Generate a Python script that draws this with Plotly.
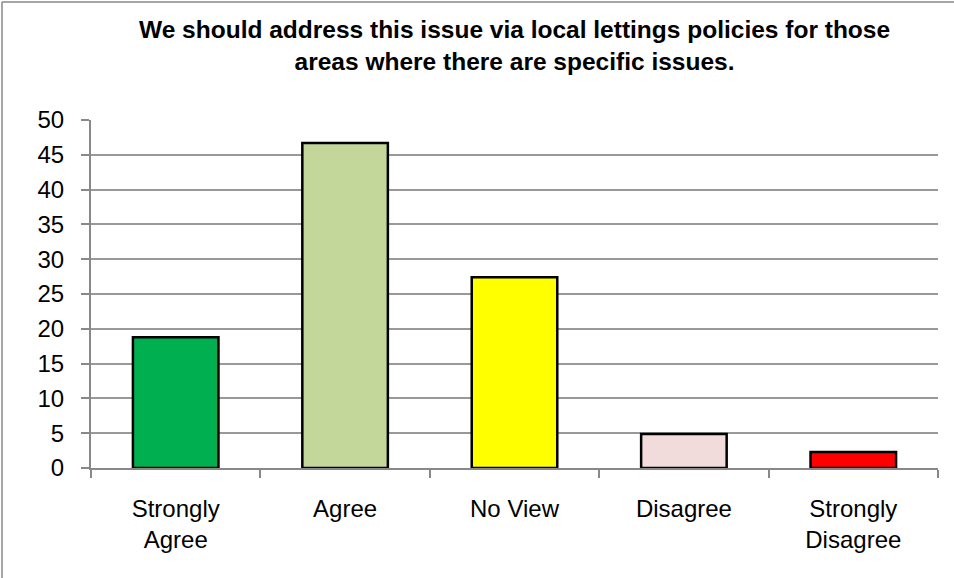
import plotly.graph_objects as go

categories = ["Strongly<br>Agree", "Agree", "No View", "Disagree", "Strongly<br>Disagree"]
values = [18.8, 46.7, 27.4, 4.9, 2.3]
bar_colors = ["#00B050", "#C4D79B", "#FFFF00", "#F2DCDB", "#FF0000"]
y_ticks = [0, 5, 10, 15, 20, 25, 30, 35, 40, 45, 50]

title_text = ("We should address this issue via local lettings policies for those<br>"
              "areas where there are specific issues.")

W, H = 954, 578
L, R, T, B = 91, 16, 120, 110
PW, PH = W - L - R, H - T - B

fig = go.Figure()
fig.add_trace(go.Bar(
    x=categories, y=values,
    marker=dict(color=bar_colors, line=dict(color="#000000", width=2.5)),
    width=0.505,
))

fig.update_layout(
    width=W, height=H,
    margin=dict(l=L, r=R, t=T, b=B),
    paper_bgcolor="white", plot_bgcolor="white",
    showlegend=False,
    font=dict(family="Liberation Sans, Arial, sans-serif", color="#000000", size=24),
    xaxis=dict(
        showline=True, linecolor="#888888", linewidth=2,
        ticks="outside", ticklen=8, tickcolor="#888888", tickwidth=2,
        tickson="boundaries",
        showgrid=False,
        ticklabelstandoff=18,
        tickfont=dict(size=24),
    ),
    yaxis=dict(
        range=[0, 50],
        tickvals=y_ticks,
        showline=True, linecolor="#888888", linewidth=2,
        ticks="outside", ticklen=8, tickcolor="#888888", tickwidth=2,
        showgrid=True, gridcolor="#999999", gridwidth=2,
        zeroline=False,
        ticklabelstandoff=12,
        tickfont=dict(size=24),
    ),
    annotations=[
        dict(text="<b>" + title_text + "</b>", showarrow=False,
             xref="paper", yref="paper",
             x=0.5, xanchor="center",
             y=1 + (T - 45) / PH, yanchor="middle",
             align="center",
             font=dict(family="Liberation Sans, Arial, sans-serif", size=24.5, color="#000000")),
    ],
    shapes=[
        dict(type="line", xref="paper", yref="paper",
             x0=-(L - 2) / PW, x1=(W - L + 10) / PW,
             y0=1 + (T - 2) / PH, y1=1 + (T - 2) / PH,
             line=dict(color="#888888", width=1.5)),
        dict(type="line", xref="paper", yref="paper",
             x0=-(L - 2) / PW, x1=-(L - 2) / PW,
             y0=1 + (T - 2) / PH, y1=-(B + 10) / PH,
             line=dict(color="#888888", width=1.5)),
    ],
)

fig.write_html("out.html", config={"displayModeBar": False},
               post_script="document.body.style.margin='0';")
